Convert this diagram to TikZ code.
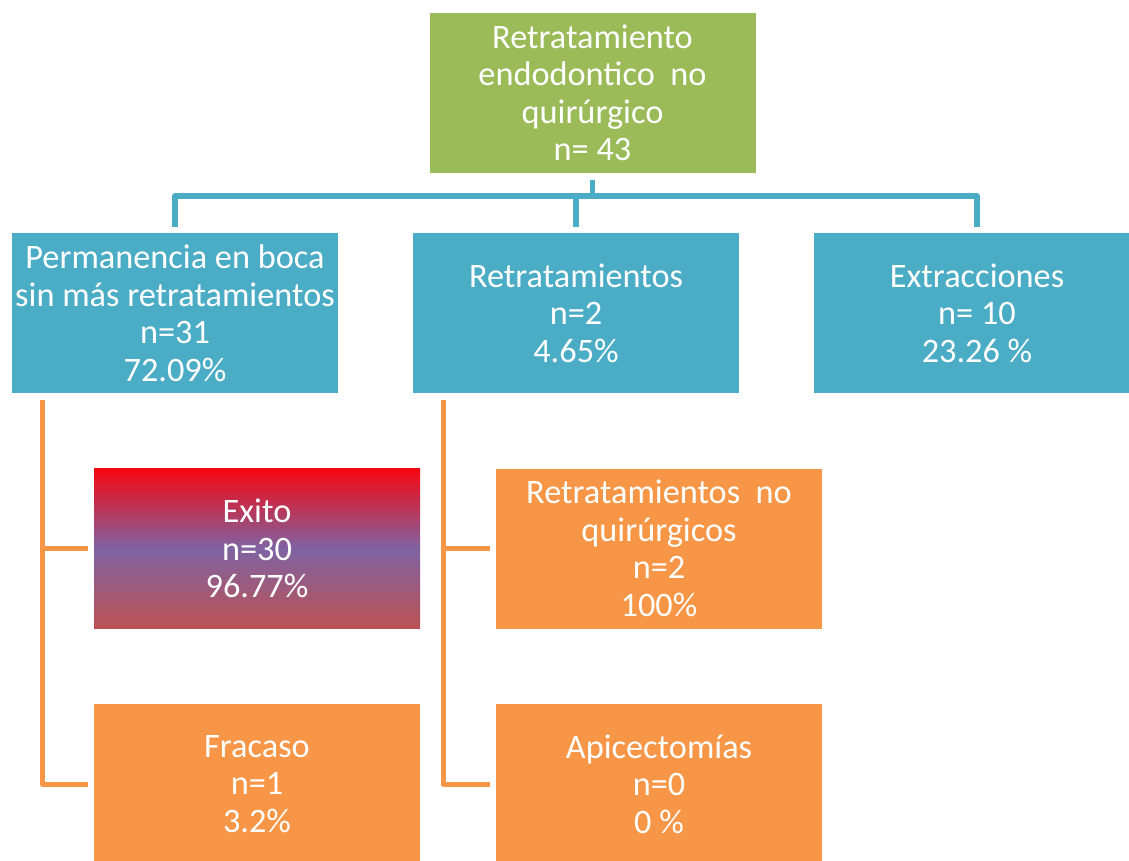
\documentclass[tikz,border=0pt]{standalone}
\usepackage{fontspec}
\setmainfont{Carlito}
\definecolor{cgreen}{HTML}{9BBB59}
\definecolor{cblue}{HTML}{4BACC6}
\definecolor{corange}{HTML}{F79646}
\definecolor{gtop}{HTML}{F5070F}
\definecolor{gmid}{HTML}{7F63A2}
\definecolor{gbot}{HTML}{BD5152}
\pgfdeclareverticalshading{exitoshade}{100bp}{color(0bp)=(gbot); color(25bp)=(gbot); color(50bp)=(gmid); color(75bp)=(gtop); color(100bp)=(gtop)}
\tikzset{
  box/.style={minimum width=326pt, minimum height=160pt, inner sep=0pt, outer sep=0pt,
    align=center, text=white, font=\fontsize{34.3}{37.5}\selectfont},
  greenbox/.style={box, fill=cgreen},
  bluebox/.style={box, fill=cblue},
  orangebox/.style={box, fill=corange},
  gradbox/.style={box, shading=exitoshade},
  blueline/.style={draw=cblue, line width=5.5pt, line join=round, shorten <=7pt, shorten >=6pt},
  orangeline/.style={draw=corange, line width=5pt, line join=round, shorten <=7pt, shorten >=6pt}
}
\begin{document}
\begin{tikzpicture}[x=1pt,y=-1pt]
\useasboundingbox (0,0) rectangle (1129,860);
\clip (0,0) rectangle (1129,860);
\node[greenbox] (top) at (592.5,93) {Retratamiento\\endodontico\ \ no\\quirúrgico\\n= 43};
\node[bluebox] (b1) at (175,313) {Permanencia en boca\\sin más retratamientos\\n=31\\72.09\%};
\node[bluebox] (b2) at (576,313) {Retratamientos\\n=2\\4.65\%};
\node[bluebox] (b3) at (977,313) {Extracciones\\n= 10\\23.26 \%};
\node[gradbox] (exito) at (257,548.5) {Exito\\n=30\\96.77\%};
\node[orangebox] (fracaso) at (257,784) {Fracaso\\n=1\\3.2\%};
\node[orangebox] (rnq) at (659,548.5) {Retratamientos\ \ no\\quirúrgicos\\n=2\\100\%};
\node[orangebox] (apic) at (659,784) {Apicectomías\\n=0\\0 \%};
\draw[blueline] (top.south) -- ++(0,23) -| (b1.north);
\draw[blueline] (top.south) -- ++(0,23) -| (b2.north);
\draw[blueline] (top.south) -- ++(0,23) -| (b3.north);
\draw[orangeline] ([xshift=30pt]b1.south west) |- (exito.west);
\draw[orangeline] ([xshift=30pt]b1.south west) |- (fracaso.west);
\draw[orangeline] ([xshift=30pt]b2.south west) |- (rnq.west);
\draw[orangeline] ([xshift=30pt]b2.south west) |- (apic.west);
\end{tikzpicture}
\end{document}
